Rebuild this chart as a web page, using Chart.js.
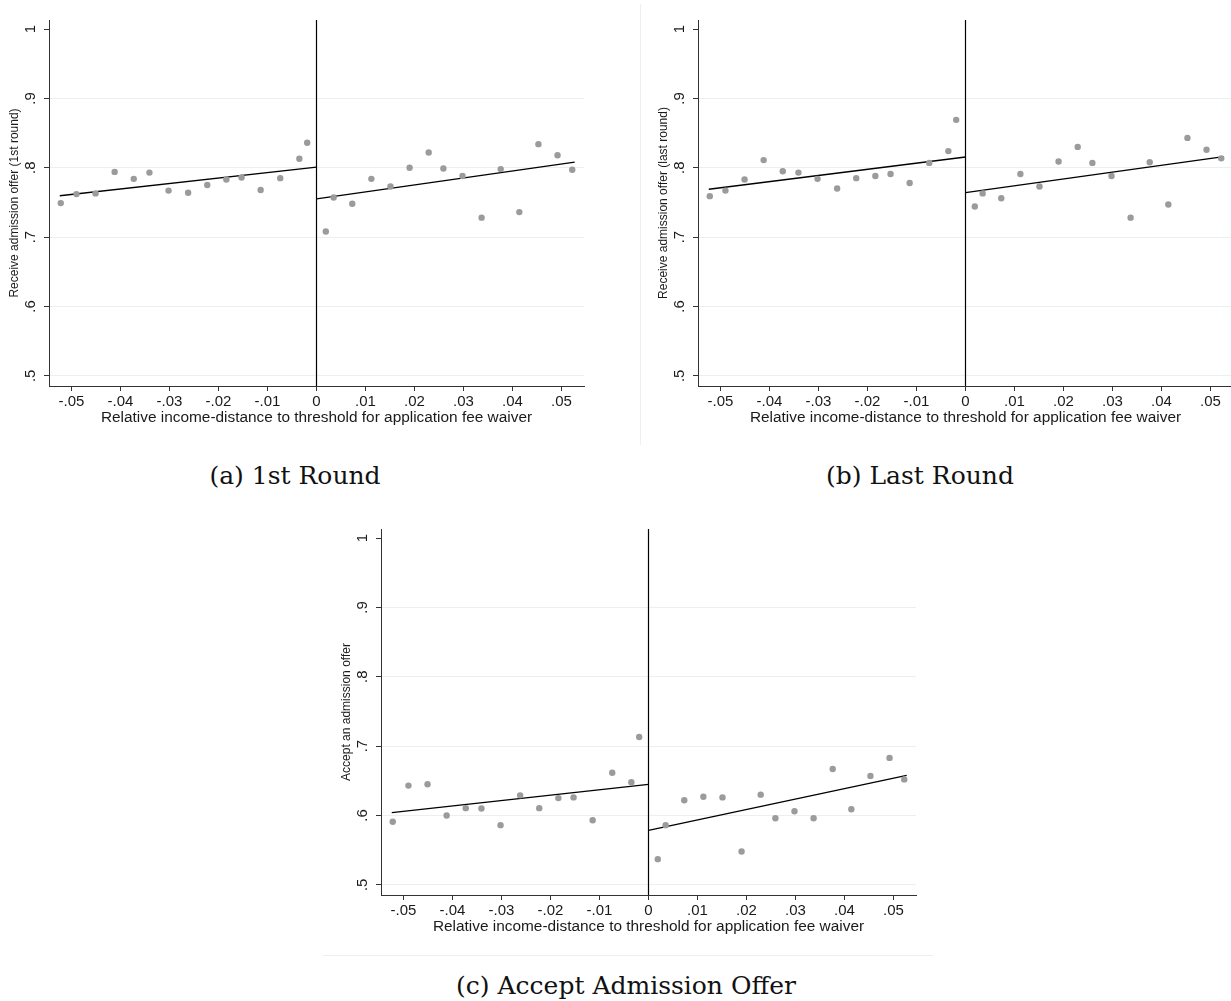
<!DOCTYPE html>
<html>
<head>
<meta charset="utf-8">
<script src="https://cdn.jsdelivr.net/npm/chart.js@4.4.1/dist/chart.umd.min.js"></script>
<style>
  html, body { margin: 0; padding: 0; background: #fff; }
  body { width: 1231px; height: 1001px; overflow: hidden; position: relative; }
  canvas.panel { position: absolute; }
  .cap { position: absolute; font-family: "DejaVu Serif", serif; font-size: 25px; color: #111;
         transform: translate(-50%, -50%); white-space: nowrap; line-height: 1; }
  .rule { position: absolute; background: #efefef; }
</style>
</head>
<body>
<div class="rule" style="left:640px;top:4px;width:1px;height:441px"></div>
<div class="rule" style="left:323px;top:955px;width:610px;height:1px"></div>
<canvas id="panelA" class="panel"></canvas>
<canvas id="panelB" class="panel"></canvas>
<canvas id="panelC" class="panel"></canvas>
<div class="cap" style="left:295px;top:475px">(a) 1st Round</div>
<div class="cap" style="left:920px;top:475px">(b) Last Round</div>
<div class="cap" style="left:626px;top:985px">(c) Accept Admission Offer</div>

<script>
// bin midpoints (relative income distance), same bins in all three panels
const binsLeft  = [-0.0522, -0.0490, -0.0451, -0.0412, -0.0373, -0.0341, -0.0302, -0.0262,
                   -0.0223, -0.0184, -0.0153, -0.0114, -0.0074, -0.0035, -0.0019];
const binsRight = [0.0019, 0.0035, 0.0073, 0.0112, 0.0151, 0.0190, 0.0229, 0.0259,
                   0.0298, 0.0337, 0.0376, 0.0414, 0.0453, 0.0492, 0.0522];

// (a) receive offer, 1st round
const firstLeft  = [0.749, 0.762, 0.763, 0.794, 0.784, 0.793, 0.767, 0.764,
                    0.775, 0.783, 0.786, 0.768, 0.785, 0.813, 0.836];
const firstRight = [0.708, 0.757, 0.748, 0.784, 0.773, 0.800, 0.822, 0.799,
                    0.788, 0.728, 0.798, 0.736, 0.834, 0.818, 0.797];
const firstFitLeft  = [0.7596, 0.801];
const firstFitRight = [0.755, 0.808];

// (b) receive offer, last round
const lastLeft  = [0.759, 0.767, 0.783, 0.811, 0.795, 0.793, 0.784, 0.770,
                   0.785, 0.788, 0.791, 0.778, 0.807, 0.824, 0.869];
const lastRight = [0.744, 0.763, 0.756, 0.791, 0.773, 0.809, 0.830, 0.807,
                   0.788, 0.728, 0.808, 0.747, 0.843, 0.826, 0.8135];
const lastFitLeft  = [0.769, 0.8155];
const lastFitRight = [0.764, 0.816];

// (c) accept an offer
const acceptLeft  = [0.591, 0.643, 0.645, 0.600, 0.6105, 0.610, 0.586, 0.629,
                     0.6105, 0.625, 0.626, 0.593, 0.6615, 0.648, 0.713];
const acceptRight = [0.537, 0.586, 0.622, 0.627, 0.626, 0.548, 0.630, 0.596,
                     0.606, 0.596, 0.667, 0.609, 0.657, 0.683, 0.652];
const acceptFitLeft  = [0.604, 0.6447];
const acceptFitRight = [0.5784, 0.6577];

// x ends of the fitted lines
const fitXLeft  = [-0.0524, 0];
const fitXRight = [0, 0.0527];

const xTicks = [-0.05, -0.04, -0.03, -0.02, -0.01, 0, 0.01, 0.02, 0.03, 0.04, 0.05];
const yTicks = [0.5, 0.6, 0.7, 0.8, 0.9, 1];
const X_MIN = -0.0546, X_MAX = 0.0546;
const Y_MIN = 0.4853, Y_MAX = 1.013;

const xTitle = 'Relative income-distance to threshold for application fee waiver';

const DOT = '#9b9b9b';
const AXIS = '#333333';
const GRID = '#e8f0f2';
const TEXT = '#1a1a1a';
const SANS = '"Liberation Sans", Arial, sans-serif';

// plot-area boxes in page pixels
const PAD_L = 60, PAD_T = 25, PAD_R = 20, PAD_B = 50;

// Stata style labels: .5, -.05, 0, 1
function stataNum(v, digits) {
  if (Math.abs(v) < 1e-9) return '0';
  if (Math.abs(Math.abs(v) - 1) < 1e-9) return v < 0 ? '-1' : '1';
  return v.toFixed(digits).replace('0.', '.');
}

const rotatedYLabels = {
  id: 'rotatedYLabels',
  afterDraw(chart) {
    const s = chart.scales.y;
    const ctx = chart.ctx;
    ctx.save();
    ctx.font = '15px ' + SANS;
    ctx.fillStyle = TEXT;
    ctx.textAlign = 'center';
    ctx.textBaseline = 'middle';
    s.ticks.forEach(t => {
      const py = s.getPixelForValue(t.value);
      ctx.save();
      ctx.translate(s.right - 18, py);
      ctx.rotate(-Math.PI / 2);
      ctx.fillText(stataNum(t.value, 1), 0, 0);
      ctx.restore();
    });
    ctx.restore();
  }
};

function pts(xs, ys) {
  return xs.map((x, i) => ({ x: x, y: ys[i] }));
}

function makePanel(id, box, yTitle, leftY, rightY, fitL, fitR) {
  const W = box.r - box.l + PAD_L + PAD_R;
  const H = box.b - box.t + PAD_T + PAD_B;
  const cv = document.getElementById(id);
  cv.width = W;
  cv.height = H;
  cv.style.left = (box.l - PAD_L) + 'px';
  cv.style.top = (box.t - PAD_T) + 'px';

  const dots = (data) => ({
    data: data, showLine: false, pointRadius: 3.2, pointHoverRadius: 3.2,
    pointBackgroundColor: DOT, pointBorderWidth: 0, borderWidth: 0
  });
  const rule = (data, w) => ({
    data: data, showLine: true, pointRadius: 0, borderColor: '#000', borderWidth: w, fill: false
  });

  new Chart(cv, {
    type: 'scatter',
    data: {
      datasets: [
        dots(pts(binsLeft, leftY)),
        dots(pts(binsRight, rightY)),
        rule(pts(fitXLeft, fitL), 1.3),
        rule(pts(fitXRight, fitR), 1.3),
        rule([{ x: 0, y: Y_MIN }, { x: 0, y: Y_MAX }], 1.2)
      ]
    },
    options: {
      responsive: false,
      animation: false,
      devicePixelRatio: 1,
      layout: { autoPadding: false, padding: { left: 0, top: PAD_T, right: PAD_R, bottom: 0 } },
      plugins: { legend: { display: false }, tooltip: { enabled: false } },
      scales: {
        x: {
          type: 'linear', min: X_MIN, max: X_MAX,
          afterBuildTicks: s => { s.ticks = xTicks.map(v => ({ value: v })); },
          afterFit: s => { s.height = PAD_B; },
          ticks: {
            autoSkip: false, maxRotation: 0, padding: 2, color: TEXT,
            font: { family: SANS, size: 15, lineHeight: 1.2 },
            callback: v => stataNum(v, 2)
          },
          grid: { drawOnChartArea: false, drawTicks: true, tickLength: 5, tickColor: AXIS, tickWidth: 1 },
          border: { display: true, color: AXIS, width: 1 },
          title: {
            display: true, text: xTitle, color: TEXT,
            font: { family: SANS, size: 15.4, lineHeight: 1 },
            padding: { top: 0, bottom: 10.3 }
          }
        },
        y: {
          type: 'linear', min: Y_MIN, max: Y_MAX,
          afterBuildTicks: s => { s.ticks = yTicks.map(v => ({ value: v })); },
          afterFit: s => { s.width = PAD_L; },
          ticks: { display: false },
          grid: {
            drawTicks: true, tickLength: 5, tickColor: AXIS, tickWidth: 1, lineWidth: 1,
            color: c => (c.tick && c.tick.value > 0.95) ? 'rgba(0,0,0,0)' : GRID
          },
          border: { display: true, color: AXIS, width: 1 },
          title: {
            display: true, text: yTitle, color: TEXT,
            font: { family: SANS, size: 12, lineHeight: 1 },
            padding: { top: 20, bottom: 0 }
          }
        }
      }
    },
    plugins: [rotatedYLabels]
  });
}

makePanel('panelA', { l: 49, t: 20, r: 584, b: 386 }, 'Receive admission offer (1st round)',
          firstLeft, firstRight, firstFitLeft, firstFitRight);
makePanel('panelB', { l: 698, t: 20, r: 1233, b: 386 }, 'Receive admission offer (last round)',
          lastLeft, lastRight, lastFitLeft, lastFitRight);
makePanel('panelC', { l: 381, t: 529, r: 916, b: 895 }, 'Accept an admission offer',
          acceptLeft, acceptRight, acceptFitLeft, acceptFitRight);
</script>
</body>
</html>
